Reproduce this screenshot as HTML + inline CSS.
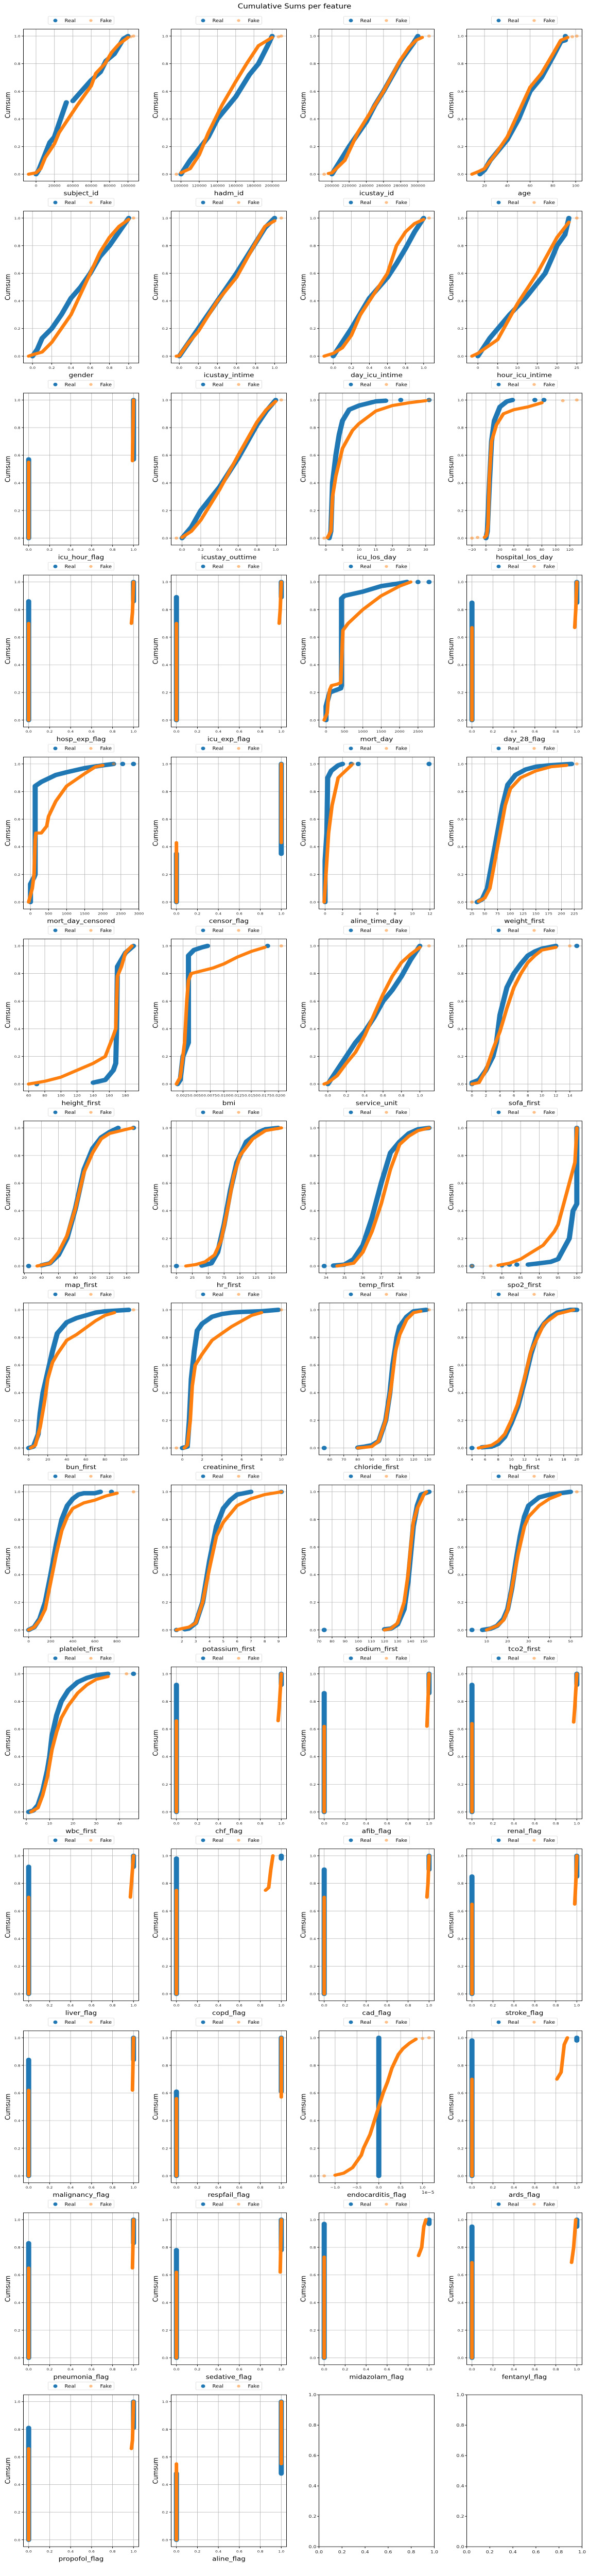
<!DOCTYPE html>
<html><head><meta charset="utf-8"><title>Cumulative Sums per feature</title>
<style>
html,body{margin:0;padding:0;background:#fff;}
svg{display:block;font-family:"DejaVu Sans","Liberation Sans",sans-serif;}
</style></head>
<body>
<svg id="fig" width="1144" height="4980" viewBox="0 0 1144 5809" preserveAspectRatio="none" xmlns="http://www.w3.org/2000/svg">
<rect x="0" y="0" width="1144" height="5809" fill="#fff"/>
<text x="572" y="19" text-anchor="middle" font-size="15" fill="#000">Cumulative Sums per feature</text>
</svg>
<script>
const features = ["subject_id","hadm_id","icustay_id","age",
"gender","icustay_intime","day_icu_intime","hour_icu_intime",
"icu_hour_flag","icustay_outtime","icu_los_day","hospital_los_day",
"hosp_exp_flag","icu_exp_flag","mort_day","day_28_flag",
"mort_day_censored","censor_flag","aline_time_day","weight_first",
"height_first","bmi","service_unit","sofa_first",
"map_first","hr_first","temp_first","spo2_first",
"bun_first","creatinine_first","chloride_first","hgb_first",
"platelet_first","potassium_first","sodium_first","tco2_first",
"wbc_first","chf_flag","afib_flag","renal_flag",
"liver_flag","copd_flag","cad_flag","stroke_flag",
"malignancy_flag","respfail_flag","endocarditis_flag","ards_flag",
"pneumonia_flag","sedative_flag","midazolam_flag","fentanyl_flag",
"propofol_flag","aline_flag"];

const U = [0,0.2,0.4,0.6,0.8,1];
const xTickValues = [
[0,20000,40000,60000,80000,100000],[100000,120000,140000,160000,180000,200000],[200000,220000,240000,260000,280000,300000,320000],[20,40,60,80,100],
U,U,U,[0,5,10,15,20,25],
U,U,[0,5,10,15,20,25,30],[-20,0,20,40,60,80,100,120],
U,U,[0,500,1000,1500,2000,2500,3000],U,
[0,500,1000,1500,2000,2500,3000],U,[0,2,4,6,8,10,12],[25,50,75,100,125,150,175,200,225],
[60,80,100,120,140,160,180],[0.0025,0.005,0.0075,0.01,0.0125,0.015,0.0175,0.02],U,[0,2,4,6,8,10,12,14],
[20,40,60,80,100,120,140],[0,25,50,75,100,125,150],[34,35,36,37,38,39],[75,80,85,90,95,100],
[0,20,40,60,80,100],[0,2,4,6,8,10],[60,70,80,90,100,110,120,130],[4,6,8,10,12,14,16,18,20],
[0,200,400,600,800],[2,3,4,5,6,7,8,9],[70,80,90,100,110,120,130,140,150],[10,20,30,40,50],
[0,10,20,30,40],U,U,U,
U,U,U,U,
U,U,[-1,-0.5,0,0.5,1],U,
U,U,U,U,
U,U];

const realSeries = [
[[0,0],[3000,0.03],[15000,0.23],[20000,0.27],[33000,0.52],null,[40000,0.53],[60000,0.68],[70000,0.74],[76000,0.82],[85000,0.87],[95000,0.98],[100000,1]],
[[100000,0],[110000,0.1],[130000,0.27],[140000,0.4],[160000,0.56],[175000,0.72],[185000,0.8],[195000,0.93],[200000,1]],
[[200000,0],[210000,0.1],[220000,0.2],[240000,0.38],[250000,0.5],[260000,0.6],[280000,0.82],[295000,0.95],[300000,1]],
[[16,0],[20,0.03],[25,0.1],[35,0.2],[40,0.25],[50,0.4],[60,0.6],[70,0.7],[80,0.85],[87,0.96],[91,0.97],[91,1]],
[[0,0],[0.05,0.05],[0.1,0.13],[0.2,0.2],[0.3,0.3],[0.4,0.42],[0.5,0.5],[0.6,0.6],[0.7,0.72],[0.8,0.8],[0.9,0.9],[1,1]],
[[0,0],[0.1,0.1],[0.2,0.2],[0.4,0.4],[0.6,0.6],[0.8,0.82],[0.9,0.93],[1,1]],
[[0,0],[0.1,0.1],[0.2,0.2],[0.4,0.42],[0.6,0.57],[0.7,0.67],[0.8,0.78],[0.9,0.9],[1,1]],
[[0,0],[3,0.13],[8,0.3],[12,0.42],[17,0.6],[19,0.73],[20,0.8],[22,0.88],[23,1]],
[[0,0],[0,0.57],null,[1,0.57],[1,1]],
[[0,0],[0.1,0.08],[0.2,0.2],[0.4,0.37],[0.6,0.58],[0.8,0.82],[0.9,0.92],[1,1]],
[[1,0],[1.5,0.05],[2,0.4],[3,0.6],[4,0.75],[5,0.85],[7,0.93],[10,0.96],[15,0.99],[18,0.995],null,[22.5,1],null,[31,1]],
[[0,0],[2,0.05],[5,0.4],[8,0.7],[12,0.85],[20,0.95],[30,0.99],[38,1],null,[70,1],null,[83,1]],
[[0,0],[0,0.86],null,[1,0.86],[1,1]],
[[0,0],[0,0.89],null,[1,0.89],[1,1]],
[[0,0],[0,0.1],[50,0.15],[100,0.2],[400,0.23],[420,0.25],[420,0.88],[500,0.9],[1000,0.93],[1500,0.97],[2000,0.99],[2200,1],null,[2500,1],null,[2800,1]],
[[0,0],[0,0.85],null,[1,0.85],[1,1]],
[[0,0],[0,0.13],[100,0.18],[130,0.2],[130,0.84],[300,0.87],[700,0.92],[1000,0.94],[1500,0.97],[2000,0.99],[2300,1],null,[2550,1],null,[2850,1]],
[[0,0],[0,0.35],null,[1,0.35],[1,1]],
[[0,0],[0,0.3],[0.2,0.5],[0.3,0.9],[0.7,0.95],[1.5,0.99],[2,1],null,[3,1],null,[3.8,1],null,[11.9,1]],
[[35,0],[45,0.02],[55,0.1],[65,0.3],[75,0.5],[85,0.7],[95,0.85],[110,0.92],[130,0.96],[150,0.98],[175,0.99],[220,1]],
[[70,0],null,[140,0.01],[155,0.03],[165,0.1],[168,0.15],[169,0.4],[170,0.85],[175,0.9],[180,0.95],[190,1]],
[[0.0015,0],[0.002,0.03],[0.0025,0.2],[0.0035,0.3],[0.0035,0.93],[0.0045,0.97],[0.006,0.99],[0.007,1],null,[0.018,1]],
[[0,0],[0.1,0.1],[0.2,0.2],[0.3,0.3],[0.4,0.38],[0.5,0.48],[0.6,0.6],[0.7,0.68],[0.8,0.78],[0.9,0.9],[1,1]],
[[0,0],[0,0.01],[1,0.03],[2,0.1],[3,0.2],[3.5,0.3],[4,0.5],[5,0.7],[6,0.8],[7,0.87],[8,0.93],[9,0.96],[10,0.98],[11,0.99],[12,1],null,[15,1]],
[[25,0],null,[40,0.005],[50,0.02],[60,0.08],[70,0.2],[80,0.42],[90,0.7],[100,0.85],[110,0.93],[120,0.97],[130,1],null,[148,1]],
[[0,0],null,[40,0.003],[55,0.02],[65,0.1],[75,0.3],[85,0.55],[95,0.75],[110,0.9],[130,0.97],[140,0.99],[160,1]],
[[33.9,0],null,[34.4,0.003],[35,0.01],[35.5,0.05],[36,0.15],[36.5,0.35],[37,0.6],[37.5,0.82],[38,0.9],[38.5,0.96],[39,0.99],[39.6,1]],
[[72,0],null,[80,0.005],null,[82,0.01],null,[84,0.01],null,[87,0.01],[90,0.02],[93,0.03],[95,0.05],[96,0.1],[97,0.15],[98,0.2],[98.5,0.3],[99,0.4],[100,0.45],[100,1]],
[[0,0],[5,0.01],[10,0.1],[12,0.25],[15,0.4],[20,0.55],[25,0.7],[30,0.83],[40,0.91],[50,0.94],[60,0.96],[70,0.98],[80,0.99],[105,1]],
[[0,0],[0.5,0.01],[0.7,0.2],[0.9,0.5],[1.2,0.7],[1.5,0.85],[2,0.9],[3,0.95],[4,0.97],[5,0.98],[6,0.985],[8,0.99],[9.7,1]],
[[56,0],null,[80,0.003],[85,0.01],[90,0.02],[95,0.05],[100,0.2],[103,0.4],[105,0.6],[108,0.8],[110,0.88],[115,0.95],[120,0.99],[129,1]],
[[4,0],null,[5.5,0.005],[7,0.01],[8,0.03],[9,0.08],[10,0.18],[11,0.3],[12,0.48],[13,0.68],[14,0.83],[15,0.9],[16,0.95],[17,0.98],[19,1],[20,1]],
[[0,0],[50,0.02],[100,0.08],[150,0.2],[200,0.4],[250,0.62],[300,0.8],[350,0.9],[400,0.95],[450,0.98],[500,0.99],[600,0.99],[650,1],null,[750,1]],
[[1.6,0],null,[2.2,0.005],[2.5,0.01],[3,0.05],[3.5,0.2],[4,0.5],[4.5,0.75],[5,0.88],[5.5,0.94],[6,0.98],[6.5,0.99],[7,1],null,[9.2,1]],
[[74,0],null,[120,0.005],[125,0.01],[130,0.04],[135,0.15],[138,0.35],[140,0.55],[142,0.75],[145,0.9],[148,0.98],[154,1]],
[[3,0],null,[8,0],[10,0.005],[12,0.01],[15,0.03],[18,0.08],[20,0.15],[22,0.3],[24,0.5],[26,0.68],[28,0.82],[30,0.9],[35,0.96],[40,0.98],[50,1]],
[[1,0],[3,0.01],[5,0.05],[7,0.15],[9,0.3],[10,0.4],[11,0.55],[13,0.7],[15,0.8],[18,0.88],[22,0.94],[26,0.97],[30,0.99],[35,1],null,[46,1]],
[[0,0],[0,0.92],null,[1,0.92],[1,1]],
[[0,0],[0,0.86],null,[1,0.86],[1,1]],
[[0,0],[0,0.92],null,[1,0.92],[1,1]],
[[0,0],[0,0.92],null,[1,0.92],[1,1]],
[[0,0],[0,0.98],null,[1,0.98],[1,1]],
[[0,0],[0,0.9],null,[1,0.9],[1,1]],
[[0,0],[0,0.85],null,[1,0.85],[1,1]],
[[0,0],[0,0.84],null,[1,0.84],[1,1]],
[[0,0],[0,0.61],null,[1,0.61],[1,1]],
[[0,0],[0,1]],
[[0,0],[0,0.98],null,[1,0.98],[1,1]],
[[0,0],[0,0.83],null,[1,0.83],[1,1]],
[[0,0],[0,0.78],null,[1,0.78],[1,1]],
[[0,0],[0,0.97],null,[1,0.97],[1,1]],
[[0,0],[0,0.95],null,[1,0.95],[1,1]],
[[0,0],[0,0.81],null,[1,0.81],[1,1]],
[[0,0],[0,0.48],null,[1,0.48],[1,1]]
];

const fakeSeries = [
[[-8000,0],[0,0.01],[5000,0.04],[10000,0.12],[20000,0.22],[25000,0.3],[35000,0.4],[45000,0.5],[60000,0.64],[65000,0.73],[75000,0.8],[82000,0.88],[90000,0.94],[100000,0.99],null,[103000,0.995],null,[106000,1]],
[[95000,0],null,[100000,0.01],[110000,0.04],[120000,0.14],[130000,0.3],[145000,0.5],[160000,0.67],[172000,0.8],[185000,0.93],[200000,0.99],null,[207000,0.995],null,[210000,1]],
[[191000,0],null,[196000,0.005],[200000,0.01],[215000,0.1],[230000,0.3],[245000,0.45],[260000,0.6],[280000,0.83],[290000,0.92],[298000,0.97],[305000,0.99],null,[313000,1]],
[[9,0],[12,0.01],[15,0.02],[20,0.04],[30,0.15],[40,0.27],[50,0.45],[60,0.63],[70,0.73],[80,0.87],[87,0.97],[93,0.99],null,[97,0.995],null,[101,1]],
[[-0.04,0],[0,0.01],[0.1,0.03],[0.2,0.1],[0.3,0.2],[0.4,0.3],[0.5,0.45],[0.6,0.6],[0.7,0.75],[0.8,0.86],[0.9,0.94],[1,0.99],null,[1.05,1]],
[[-0.03,0],[0,0.003],[0.1,0.1],[0.2,0.18],[0.4,0.4],[0.6,0.57],[0.8,0.82],[0.9,0.94],[1,0.98],null,[1.07,1]],
[[-0.1,0],[-0.05,0.01],[0,0.02],[0.1,0.06],[0.2,0.15],[0.3,0.3],[0.4,0.4],[0.6,0.6],[0.7,0.8],[0.8,0.9],[0.9,0.96],[1,0.99],null,[1.06,1]],
[[-1.5,0],[0,0.02],[5,0.12],[10,0.38],[15,0.6],[20,0.86],[23,0.97],null,[25,1]],
[[0,0],[0,0.55],null,[0.99,0.56],[1,1]],
[[-0.06,0],null,[0,0.005],[0.1,0.05],[0.2,0.13],[0.4,0.35],[0.6,0.6],[0.8,0.84],[0.9,0.93],[1,0.99],null,[1.06,1]],
[[-0.5,0],null,[0.5,0.003],[1.5,0.05],[2,0.3],[3,0.45],[4,0.55],[5,0.65],[8,0.78],[10,0.83],[15,0.92],[20,0.96],[25,0.98],[30,0.995],null,[31,1]],
[[-20,0],null,[-12,0.005],null,[-2,0.005],[1,0.02],[3,0.1],[5,0.45],[8,0.7],[15,0.82],[25,0.9],[40,0.93],[60,0.95],[80,0.98],null,[110,0.995],null,[130,1]],
[[0,0],[0,0.7],null,[0.98,0.7],[0.99,0.78],[1,1]],
[[0,0],[0,0.7],null,[0.98,0.7],[0.99,0.8],[1,1]],
[[-50,0],[30,0.05],[60,0.15],[100,0.22],[150,0.25],[300,0.26],[400,0.27],[450,0.6],[460,0.65],[600,0.7],[1000,0.8],[1500,0.9],[2000,0.97],[2300,1]],
[[0,0],[0,0.67],null,[0.98,0.67],[0.99,0.8],[1,1]],
[[-50,0],[50,0.1],[100,0.2],[130,0.45],[150,0.5],[300,0.5],[450,0.55],[500,0.62],[700,0.73],[1000,0.84],[1500,0.93],[1800,0.98],[2000,0.99],null,[2300,1]],
[[0,0],[0,0.43],null,[1,0.43],[1,1]],
[[-0.1,0],[0.2,0.3],[0.4,0.5],[0.8,0.7],[1.5,0.9],[3,0.99],null,[3.2,1]],
[[25,0],null,[38,0.005],[50,0.03],[60,0.1],[70,0.3],[80,0.5],[90,0.7],[100,0.82],[120,0.9],[150,0.95],[180,0.98],[210,0.99],null,[230,1]],
[[60,0],[70,0.01],[80,0.02],[100,0.05],[120,0.1],[140,0.15],[155,0.2],[165,0.35],[168,0.4],[170,0.78],[175,0.85],[180,0.95],[188,1]],
[[0.0013,0],[0.002,0.05],[0.0028,0.3],[0.0032,0.6],[0.0035,0.75],[0.004,0.8],[0.006,0.82],[0.008,0.84],[0.01,0.87],[0.0125,0.92],[0.015,0.96],[0.0175,0.99],null,[0.0205,1]],
[[-0.04,0],[0,0.01],[0.1,0.06],[0.2,0.15],[0.3,0.23],[0.4,0.35],[0.5,0.5],[0.6,0.65],[0.7,0.78],[0.8,0.88],[0.9,0.94],[1,0.99],null,[1.1,1]],
[[0,0],[1,0.01],[2,0.1],[3,0.25],[4,0.38],[5,0.55],[6,0.7],[7,0.8],[8,0.88],[9,0.93],[10,0.97],[12,0.99],null,[14,1]],
[[35,0],[50,0.02],[60,0.1],[70,0.22],[80,0.42],[90,0.68],[100,0.82],[110,0.92],[120,0.96],[140,0.99],[147,1]],
[[15,0],[30,0.01],[45,0.03],[60,0.08],[70,0.18],[80,0.4],[90,0.65],[100,0.8],[120,0.92],[140,0.98],[165,1]],
[[34.6,0],[35.5,0.02],[36,0.1],[36.5,0.25],[37,0.45],[37.5,0.7],[38,0.88],[38.5,0.94],[39,0.98],[39.6,1]],
[[72,0],null,[77,0],null,[79,0.005],[82,0.02],[85,0.05],[88,0.1],[91,0.15],[94,0.25],[95,0.3],[96,0.4],[97,0.5],[98,0.6],[99,0.7],[99.5,0.75],[100,0.98],[100,1]],
[[2,0],[7,0.02],[12,0.15],[17,0.35],[20,0.5],[25,0.62],[30,0.68],[40,0.78],[50,0.82],[60,0.87],[70,0.92],[80,0.96],[90,0.98],null,[110,1]],
[[-0.6,0],null,[0.2,0],[0.5,0.02],[0.8,0.2],[1,0.45],[1.3,0.6],[2,0.68],[3,0.78],[4,0.83],[5,0.88],[6,0.92],[7,0.96],[8,0.98],null,[10,1]],
[[80,0],[90,0.01],[95,0.05],[100,0.2],[104,0.45],[107,0.7],[110,0.82],[115,0.93],[120,0.98],[125,0.99],null,[131,1]],
[[5,0],[7,0.02],[8,0.05],[9,0.1],[10,0.2],[11,0.32],[12,0.5],[13,0.7],[14,0.8],[15,0.9],[17,0.97],[19.5,1]],
[[0,0],[50,0.02],[100,0.07],[150,0.15],[200,0.35],[250,0.55],[300,0.72],[350,0.82],[400,0.88],[500,0.92],[600,0.94],[700,0.97],[800,0.99],null,[950,1]],
[[1.6,0],[2,0.01],[2.5,0.02],[3,0.05],[3.5,0.2],[4,0.45],[4.5,0.68],[5,0.78],[5.5,0.84],[6,0.9],[7,0.95],[8,0.98],[9.2,1]],
[[120,0],[125,0.01],[130,0.05],[135,0.2],[138,0.4],[140,0.6],[142,0.78],[145,0.88],[150,0.98],[152,1]],
[[10,0],[15,0.03],[18,0.07],[20,0.14],[22,0.3],[25,0.55],[28,0.75],[30,0.82],[35,0.9],[40,0.95],[45,0.98],null,[53,1]],
[[2,0],[5,0.03],[7,0.12],[9,0.25],[11,0.45],[13,0.58],[15,0.68],[18,0.77],[22,0.86],[26,0.92],[30,0.96],[35,0.98],null,[43,1]],
[[0,0],[0,0.66],null,[0.97,0.66],[0.98,0.75],[1,1]],
[[0,0],[0,0.62],null,[0.98,0.62],[0.99,0.8],[1,1]],
[[0,0],[0,0.64],null,[0.97,0.65],[0.98,0.75],[1,1]],
[[0,0],[0,0.7],null,[0.97,0.7],[0.98,0.8],[1,1]],
[[0,0],[0,0.75],null,[0.85,0.75],[0.88,0.77],[0.9,0.9],[0.92,1]],
[[0,0],[0,0.7],null,[0.98,0.7],[0.99,0.8],[1,1]],
[[0,0],[0,0.65],null,[0.98,0.65],[0.99,0.8],[1,1]],
[[0,0],[0,0.62],null,[0.99,0.62],[1,1]],
[[0,0],[0,0.56],null,[1,0.57],[1,1]],
[[-1.25,0],null,[-1,0.005],[-0.8,0.02],[-0.6,0.06],[-0.4,0.15],[-0.35,0.2],[-0.2,0.3],[-0.1,0.4],[0,0.5],[0.1,0.6],[0.2,0.68],[0.3,0.78],[0.45,0.88],[0.55,0.92],[0.7,0.96],[0.85,0.99],null,[1,0.995],null,[1.15,1]],
[[0,0],[0,0.7],null,[0.81,0.7],[0.85,0.75],[0.88,0.95],[0.91,1]],
[[0,0],[0,0.65],null,[0.99,0.65],[1,1]],
[[0,0],[0,0.62],null,[0.99,0.62],[1,1]],
[[0,0],[0,0.73],null,[0.9,0.74],[0.93,0.8],[0.95,0.95],[0.97,1]],
[[0,0],[0,0.69],null,[0.95,0.69],[0.97,0.8],[0.99,1]],
[[0,0],[0,0.66],null,[0.98,0.66],[0.99,0.72],[1,1]],
[[0,0],[0,0.55],null,[1,0.55],[1,1]]
];

const yTickValues = [0,0.2,0.4,0.6,0.8,1];
const emptyTickValues = [0,0.2,0.4,0.6,0.8,1];

const NS = "http://www.w3.org/2000/svg";
const svg = document.getElementById('fig');
const L0 = 45.5, COLSTEP = 287, W = 224, T0 = 66, ROWSTEP = 412, H = 344;
const BLUE = "#1f77b4", ORANGE = "#ff7f0e";

function mk(tag, attrs, parent) {
  const e = document.createElementNS(NS, tag);
  for (const k in attrs) e.setAttribute(k, attrs[k]);
  (parent || svg).appendChild(e);
  return e;
}
function decimals(ticks) {
  let d = 0;
  ticks.forEach(t => { const s = String(t); if (s.indexOf('e') < 0) { const p = s.split('.')[1]; if (p) d = Math.max(d, p.length); } });
  return d;
}
function fmt(v, d) { return v.toFixed(d).replace('-', '\u2212'); }

function drawSeries(g, series, sx, sy, color, width, alphaSingle) {
  let seg = [];
  const flush = () => {
    if (seg.length === 1) {
      const c = mk('circle', {cx: sx(seg[0][0]), cy: sy(seg[0][1]), r: width / 2, fill: color, 'fill-opacity': alphaSingle}, g);
      
      
    } else if (seg.length > 1) {
      const d = seg.map((p, i) => (i ? 'L' : 'M') + sx(p[0]).toFixed(2) + ' ' + sy(p[1]).toFixed(2)).join(' ');
      const pth = mk('path', {d: d, fill: 'none', stroke: color, 'stroke-width': width, 'stroke-linecap': 'round', 'stroke-linejoin': 'round'}, g);
      
      
    }
    seg = [];
  };
  series.forEach(p => { if (p === null) flush(); else seg.push(p); });
  flush();
}

function legend(cx, top) {
  const g = mk('g', {});
  
  
  const bx = cx - 64;
  mk('rect', {x: bx, y: top, width: 128, height: 18, rx: 2, fill: '#fff', stroke: '#d6d6d6', 'stroke-width': 0.8}, g);
  const e1 = mk('g', {}, g);
  
  
  mk('circle', {cx: bx + 14, cy: top + 9.5, r: 4, fill: BLUE}, e1);
  const t1 = mk('text', {x: bx + 32, y: top + 13, 'font-size': 10, fill: '#000'}, e1);
  t1.textContent = 'Real';
  const e2 = mk('g', {}, g);
  
  
  mk('circle', {cx: bx + 83, cy: top + 9.5, r: 3.2, fill: ORANGE, 'fill-opacity': 0.5}, e2);
  const t2 = mk('text', {x: bx + 101, y: top + 13, 'font-size': 10, fill: '#000'}, e2);
  t2.textContent = 'Fake';
}

features.forEach((name, i) => {
  const r = Math.floor(i / 4), c = i % 4;
  const left = L0 + c * COLSTEP, top = T0 + r * ROWSTEP;
  const real = realSeries[i], fake = fakeSeries[i], ticks = xTickValues[i];
  let mn = Infinity, mx = -Infinity;
  real.concat(fake).forEach(p => { if (p) { mn = Math.min(mn, p[0]); mx = Math.max(mx, p[0]); } });
  if (mx === mn) { mn -= 0.05; mx += 0.05; }
  const pad = (mx - mn) * 0.05;
  const x0 = mn - pad, x1 = mx + pad;
  const sx = v => left + (v - x0) / (x1 - x0) * W;
  const sy = v => top + H - (v + 0.05) / 1.1 * H;

  const g = mk('g', {});
  
  

  legend(left + W / 2, top - 29);

  const clipId = 'clip' + i;
  const cp = mk('clipPath', {id: clipId}, g);
  mk('rect', {x: left, y: top, width: W, height: H}, cp);

  const grid = mk('g', {stroke: '#b0b0b0', 'stroke-width': 0.8}, g);
  
  
  const dx = decimals(ticks);
  ticks.forEach(t => {
    const x = sx(t);
    if (x < left - 0.5 || x > left + W + 0.5) return;
    mk('line', {x1: x, x2: x, y1: top, y2: top + H}, grid);
    mk('line', {x1: x, x2: x, y1: top + H, y2: top + H + 3.5, stroke: '#000'}, g);
    const tl = mk('text', {x: x, y: top + H + 13, 'font-size': 7.5, 'text-anchor': 'middle', fill: '#222'}, g);
    
    
    tl.textContent = fmt(t, dx);
  });
  yTickValues.forEach(t => {
    const y = sy(t);
    mk('line', {x1: left, x2: left + W, y1: y, y2: y}, grid);
    mk('line', {x1: left - 3.5, x2: left, y1: y, y2: y, stroke: '#000'}, g);
    const tl = mk('text', {x: left - 6, y: y + 3, 'font-size': 7.5, 'text-anchor': 'end', fill: '#222'}, g);
    
    
    tl.textContent = fmt(t, 1);
  });

  const plot = mk('g', {'clip-path': 'url(#' + clipId + ')'}, g);
  
  
  drawSeries(plot, real, sx, sy, BLUE, 10, 1);
  drawSeries(plot, fake, sx, sy, ORANGE, 7, 0.5);

  mk('rect', {x: left, y: top, width: W, height: H, fill: 'none', stroke: '#000', 'stroke-width': 1}, g);

  const xl = mk('text', {x: left + W / 2, y: top + H + 32, 'font-size': 13.5, 'text-anchor': 'middle', fill: '#000'}, g);
  
  
  xl.textContent = name;
  if (name === 'endocarditis_flag') {
    const off = mk('text', {x: left + W, y: top + H + 25, 'font-size': 9, 'text-anchor': 'end', fill: '#222'}, g);
    
    
    off.textContent = '1e\u22125';
  }
  const yl = mk('text', {x: 0, y: 0, 'font-size': 13.5, 'text-anchor': 'middle', fill: '#000', transform: 'translate(' + (left - 26) + ',' + (top + H / 2) + ') rotate(-90)'}, g);
  
  
  yl.textContent = 'Cumsum';
});

[2, 3].forEach(c => {
  const r = 13;
  const left = L0 + c * COLSTEP, top = T0 + r * ROWSTEP;
  const g = mk('g', {});
  
  
  mk('rect', {x: left, y: top, width: W, height: H, fill: 'none', stroke: '#000', 'stroke-width': 1}, g);
  emptyTickValues.forEach(t => {
    const x = left + t * W, y = top + H - t * H;
    mk('line', {x1: x, x2: x, y1: top + H, y2: top + H + 3.5, stroke: '#000'}, g);
    const tx = mk('text', {x: x, y: top + H + 15, 'font-size': 9.5, 'text-anchor': 'middle', fill: '#222'}, g);
    
    
    tx.textContent = t.toFixed(1);
    mk('line', {x1: left - 3.5, x2: left, y1: y, y2: y, stroke: '#000'}, g);
    const ty = mk('text', {x: left - 5, y: y + 3.5, 'font-size': 9.5, 'text-anchor': 'end', fill: '#222'}, g);
    
    
    ty.textContent = t.toFixed(1);
  });
});
</script>
</body></html>
